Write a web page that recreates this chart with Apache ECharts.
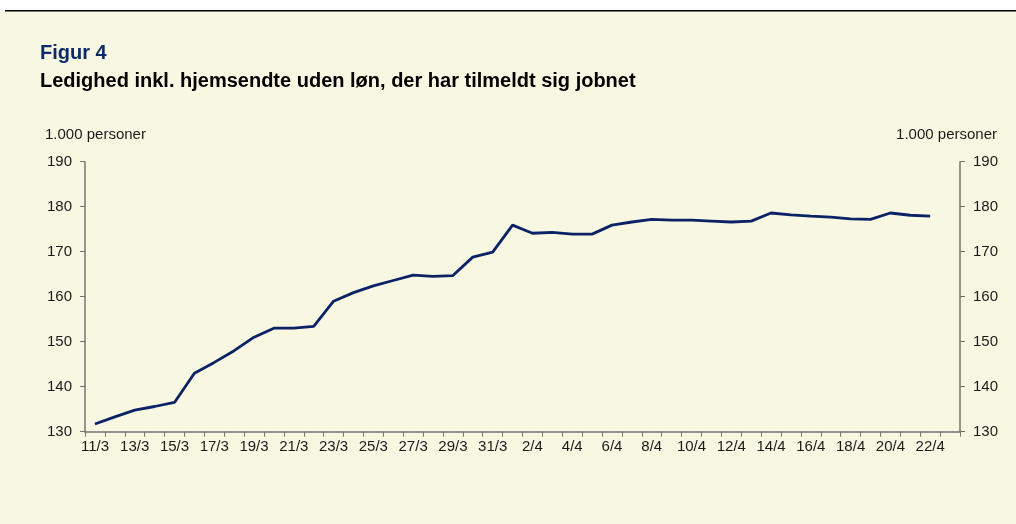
<!DOCTYPE html>
<html>
<head>
<meta charset="utf-8">
<script src="https://cdn.jsdelivr.net/npm/echarts@6/dist/echarts.min.js"></script>
<style>
html,body{margin:0;padding:0;background:#fff;}
#chart{width:1016px;height:524px;}
</style>
</head>
<body>
<div id="chart"></div>
<script>
const categories = ['11/3','12/3','13/3','14/3','15/3','16/3','17/3','18/3','19/3','20/3','21/3','22/3','23/3','24/3','25/3','26/3','27/3','28/3','29/3','30/3','31/3',
  '1/4','2/4','3/4','4/4','5/4','6/4','7/4','8/4','9/4','10/4','11/4','12/4','13/4','14/4','15/4','16/4','17/4','18/4','19/4','20/4','21/4','22/4','23/4'];
const ledighed = [131.7,133.3,134.8,135.6,136.5,143.0,145.4,148.0,151.0,153.0,153.0,153.4,159.0,160.9,162.4,163.6,164.8,164.5,164.7,168.8,169.9,
  175.9,174.1,174.3,173.9,173.9,175.9,176.6,177.2,177.0,177.0,176.8,176.6,176.8,178.6,178.2,177.9,177.7,177.3,177.2,178.6,178.1,177.9,null];
const yTicks = {min:130, max:190, interval:10};
const titleText = 'Figur 4';
const subtitleText = 'Ledighed inkl. hjemsendte uden løn, der har tilmeldt sig jobnet';
const unitText = '1.000 personer';

const chart = echarts.init(document.getElementById('chart'), null, {renderer:'canvas'});
const axisColor = '#75746e';
const font = 'Liberation Sans, Arial, sans-serif';
const yAxisBase = {
  type:'value', min:yTicks.min, max:yTicks.max, interval:yTicks.interval,
  axisLine:{show:true, lineStyle:{color:axisColor, width:1.5}},
  axisTick:{show:true, length:5, lineStyle:{color:axisColor}},
  splitLine:{show:false},
  axisLabel:{color:'#1a1a1a', fontSize:15, fontFamily:font, margin:13}
};
chart.setOption({
  backgroundColor:'#f8f7e2',
  animation:false,
  graphic:[
    {type:'rect', shape:{x:0,y:0,width:1016,height:11}, style:{fill:'#ffffff'}},
    {type:'rect', shape:{x:5,y:10,width:1011,height:1.5}, style:{fill:'#000000'}},
    {type:'text', left:40, top:43, style:{text:titleText, fill:'#0d2a6b', font:'bold 20px '+font}},
    {type:'text', left:40, top:71, style:{text:subtitleText, fill:'#000000', font:'bold 20px '+font}},
    {type:'text', left:45, top:127, style:{text:unitText, fill:'#1a1a1a', font:'15px '+font}},
    {type:'text', right:19, top:127, style:{text:unitText, fill:'#1a1a1a', font:'15px '+font}}
  ],
  grid:{left:85, right:56, top:161.7, bottom:92.3, containLabel:false},
  xAxis:{
    type:'category', data:categories, boundaryGap:true,
    axisLine:{lineStyle:{color:axisColor, width:1.5}},
    axisTick:{show:true, interval:0, length:5, lineStyle:{color:axisColor}},
    axisLabel:{interval:1, color:'#1a1a1a', fontSize:15, fontFamily:font, margin:8},
    splitLine:{show:false}
  },
  yAxis:[
    Object.assign({position:'left'}, yAxisBase),
    Object.assign({position:'right'}, yAxisBase)
  ],
  series:[{
    type:'line', data:ledighed, yAxisIndex:0,
    symbol:'none', connectNulls:false,
    lineStyle:{color:'#0b2366', width:2.8}
  }]
});
</script>
</body>
</html>
